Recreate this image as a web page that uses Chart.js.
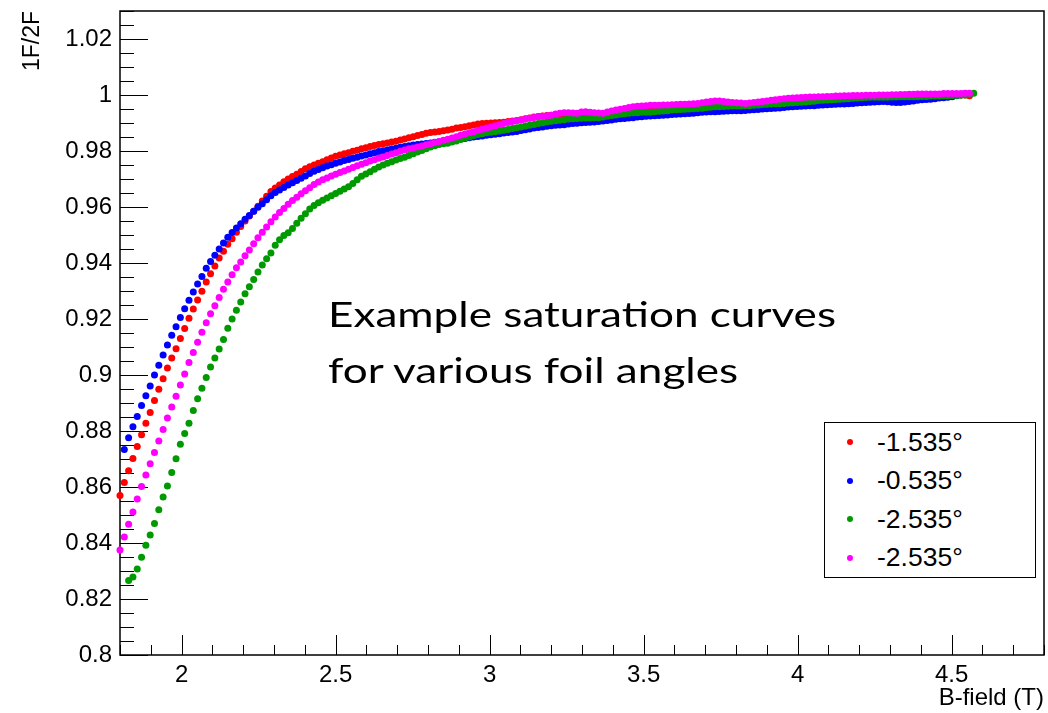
<!DOCTYPE html>
<html>
<head>
<meta charset="utf-8">
<title>Saturation curves</title>
<script src="https://cdn.jsdelivr.net/npm/chart.js@4.4.0/dist/chart.umd.min.js"></script>
<style>
  html, body { margin: 0; padding: 0; background: #fff; }
  #wrap { position: relative; width: 1048px; height: 713px; overflow: hidden; }
  #satChart { position: absolute; left: 0; top: 0; }
  #note {
    position: absolute; left: 328px; top: 285px;
    font-family: Lato, "Open Sans", sans-serif; font-size: 35px; line-height: 56px;
    color: #000; white-space: nowrap; transform-origin: 0 0;
  }
  #legendBox {
    position: absolute; left: 824px; top: 422px; width: 210px; height: 154px;
    border: 1px solid #000; background: #fff;
    font-family: "Liberation Sans", Arial, sans-serif; font-size: 26.5px; color: #000;
  }
  .legRow { height: 38.5px; display: flex; align-items: center; }
  .legDot { width: 6px; height: 6px; border-radius: 50%; margin-left: 22px; margin-right: 24px; }
</style>
</head>
<body>
<div id="wrap">
  <canvas id="satChart" width="1048" height="713"></canvas>
  <div id="note"><span id="noteLine1">Example saturation curves</span><br><span>for various foil angles</span></div>
  <div id="legendBox"></div>
</div>

<script>
/*
    1F/2F SATURATION CURVES VS B-FIELD
*/

// B-field sample points (T)
const bField = [
  1.800,1.814,1.828,1.842,1.856,1.870,1.884,1.898,1.912,1.926,1.940,1.954,1.968,1.982,1.996,2.010,2.024,2.038,2.052,2.066,2.080,2.094,2.108,2.122,2.136,2.150,2.164,2.178,2.192,2.206,2.220,2.234,2.248,2.262,2.276,2.290,2.304,2.318,2.332,2.346,2.360,2.374,2.388,2.402,2.416,2.430,2.444,2.458,2.472,2.486,
  2.500,2.514,2.528,2.542,2.556,2.570,2.584,2.598,2.612,2.626,2.640,2.654,2.668,2.682,2.696,2.710,2.724,2.738,2.752,2.766,2.780,2.794,2.808,2.822,2.836,2.850,2.864,2.878,2.892,2.906,2.920,2.934,2.948,2.962,2.976,2.990,3.004,3.018,3.032,3.046,3.060,3.074,3.088,3.102,3.116,3.130,3.144,3.158,3.172,3.186,
  3.200,3.214,3.228,3.242,3.256,3.270,3.284,3.298,3.312,3.326,3.340,3.354,3.368,3.382,3.396,3.410,3.424,3.438,3.452,3.466,3.480,3.494,3.508,3.522,3.536,3.550,3.564,3.578,3.592,3.606,3.620,3.634,3.648,3.662,3.676,3.690,3.704,3.718,3.732,3.746,3.760,3.774,3.788,3.802,3.816,3.830,3.844,3.858,3.872,3.886,
  3.900,3.914,3.928,3.942,3.956,3.970,3.984,3.998,4.012,4.026,4.040,4.054,4.068,4.082,4.096,4.110,4.124,4.138,4.152,4.166,4.180,4.194,4.208,4.222,4.236,4.250,4.264,4.278,4.292,4.306,4.320,4.334,4.348,4.362,4.376,4.390,4.404,4.418,4.432,4.446,4.460,4.474,4.488,4.502,4.516,4.530,4.544,4.558,4.572
];

// 1F/2F ratio per foil angle (null = no measurement at that field)
const ratioM1535 = [
  0.8570,0.8616,0.8658,0.8702,0.8745,0.8787,0.8828,0.8866,0.8909,0.8949,
  0.8987,0.9025,0.9061,0.9094,0.9130,0.9166,0.9203,0.9236,0.9268,0.9299,
  0.9332,0.9362,0.9389,0.9418,0.9442,0.9467,0.9487,0.9510,0.9530,0.9550,
  0.9568,0.9585,0.9603,0.9621,0.9638,0.9655,0.9668,0.9679,0.9690,0.9700,
  0.9709,0.9717,0.9727,0.9737,0.9744,0.9750,0.9756,0.9762,0.9769,0.9775,
  0.9781,0.9786,0.9790,0.9794,0.9799,0.9803,0.9808,0.9812,0.9816,0.9820,
  0.9823,0.9826,0.9829,0.9832,0.9835,0.9839,0.9843,0.9847,0.9851,0.9855,
  0.9859,0.9863,0.9866,0.9868,0.9870,0.9872,0.9875,0.9878,0.9882,0.9884,
  0.9887,0.9890,0.9893,0.9896,0.9898,0.9899,0.9900,0.9901,0.9902,0.9903,
  0.9905,0.9907,0.9909,0.9912,0.9915,0.9918,0.9921,0.9923,0.9925,0.9927,
  0.9928,0.9930,0.9931,0.9932,0.9932,0.9931,0.9931,0.9933,0.9934,0.9933,
  0.9932,0.9932,0.9932,0.9935,0.9938,0.9941,0.9944,0.9947,0.9950,0.9953,
  0.9955,0.9956,0.9957,0.9958,0.9958,0.9959,0.9959,0.9960,0.9961,0.9962,
  0.9962,0.9963,0.9964,0.9965,0.9966,0.9967,0.9969,0.9971,0.9972,0.9972,
  0.9971,0.9969,0.9968,0.9967,0.9967,0.9967,0.9968,0.9969,0.9971,0.9973,
  0.9975,0.9977,0.9979,0.9981,0.9982,0.9983,0.9984,0.9985,0.9986,0.9987,
  0.9988,0.9988,0.9989,0.9989,0.9990,0.9990,0.9991,0.9991,0.9992,0.9992,
  0.9993,0.9993,0.9993,0.9994,0.9994,0.9994,0.9995,0.9995,0.9995,0.9996,
  0.9996,0.9996,0.9997,0.9997,0.9997,0.9998,0.9998,0.9998,0.9998,0.9999,
  0.9999,0.9999,0.9999,1.0000,1.0000,1.0000,1.0000,0.9997,null
];

const ratioM0535 = [
  null,0.8734,0.8776,0.8815,0.8852,0.8891,0.8926,0.8961,0.9000,0.9035,
  0.9071,0.9107,0.9142,0.9172,0.9205,0.9237,0.9267,0.9296,0.9325,0.9352,
  0.9381,0.9405,0.9428,0.9450,0.9471,0.9492,0.9509,0.9525,0.9540,0.9556,
  0.9570,0.9585,0.9599,0.9612,0.9626,0.9640,0.9652,0.9661,0.9670,0.9679,
  0.9687,0.9695,0.9703,0.9711,0.9720,0.9728,0.9734,0.9740,0.9746,0.9751,
  0.9756,0.9761,0.9766,0.9770,0.9774,0.9778,0.9782,0.9786,0.9790,0.9794,
  0.9798,0.9801,0.9804,0.9807,0.9810,0.9813,0.9816,0.9819,0.9821,0.9823,
  0.9825,0.9827,0.9829,0.9831,0.9833,0.9835,0.9837,0.9839,0.9841,0.9843,
  0.9845,0.9847,0.9850,0.9852,0.9854,0.9856,0.9858,0.9860,0.9862,0.9864,
  0.9866,0.9868,0.9870,0.9873,0.9876,0.9879,0.9882,0.9884,0.9886,0.9888,
  0.9890,0.9892,0.9893,0.9894,0.9896,0.9898,0.9899,0.9901,0.9902,0.9903,
  0.9904,0.9905,0.9907,0.9909,0.9911,0.9913,0.9915,0.9916,0.9918,0.9919,
  0.9921,0.9922,0.9924,0.9925,0.9926,0.9927,0.9928,0.9929,0.9930,0.9931,
  0.9932,0.9933,0.9934,0.9935,0.9937,0.9938,0.9939,0.9940,0.9940,0.9941,
  0.9942,0.9943,0.9944,0.9944,0.9944,0.9945,0.9946,0.9947,0.9948,0.9950,
  0.9951,0.9952,0.9953,0.9954,0.9955,0.9957,0.9958,0.9959,0.9960,0.9961,
  0.9962,0.9962,0.9963,0.9964,0.9965,0.9966,0.9967,0.9968,0.9968,0.9969,
  0.9970,0.9971,0.9972,0.9973,0.9974,0.9975,0.9976,0.9977,0.9976,0.9974,
  0.9973,0.9973,0.9975,0.9977,0.9979,0.9981,0.9983,0.9984,0.9985,0.9987,
  0.9989,0.9990,0.9992,0.9994,0.9997,1.0001,1.0005,null,null
];

const ratioM2535a = [
  null,null,0.8266,0.8279,0.8307,0.8349,0.8392,0.8429,0.8470,0.8519,
  0.8564,0.8604,0.8652,0.8701,0.8753,0.8791,0.8828,0.8873,0.8915,0.8953,
  0.8991,0.9029,0.9061,0.9093,0.9127,0.9167,0.9200,0.9231,0.9261,0.9290,
  0.9315,0.9341,0.9368,0.9393,0.9415,0.9436,0.9463,0.9483,0.9498,0.9508,
  0.9523,0.9542,0.9560,0.9576,0.9593,0.9605,0.9615,0.9624,0.9632,0.9640,
  0.9648,0.9656,0.9664,0.9672,0.9684,0.9697,0.9710,0.9718,0.9726,0.9735,
  0.9743,0.9750,0.9756,0.9762,0.9768,0.9773,0.9778,0.9784,0.9790,0.9796,
  0.9802,0.9808,0.9814,0.9819,0.9823,0.9826,0.9828,0.9832,0.9836,0.9841,
  0.9846,0.9850,0.9855,0.9859,0.9862,0.9865,0.9867,0.9869,0.9871,0.9874,
  0.9877,0.9880,0.9883,0.9886,0.9889,0.9892,0.9895,0.9898,0.9901,0.9904,
  0.9906,0.9908,0.9910,0.9912,0.9914,0.9915,0.9916,0.9917,0.9918,0.9918,
  0.9919,0.9919,0.9921,0.9924,0.9927,0.9929,0.9931,0.9933,0.9935,0.9937,
  0.9937,0.9938,0.9938,0.9938,0.9940,0.9942,0.9943,0.9944,0.9946,0.9947,
  0.9948,0.9949,0.9950,0.9951,0.9952,0.9953,0.9955,0.9956,0.9958,0.9958,
  0.9959,0.9960,0.9961,0.9961,0.9961,0.9962,0.9962,0.9963,0.9964,0.9966,
  0.9967,0.9968,0.9969,0.9969,0.9970,0.9971,0.9972,0.9973,0.9974,0.9975,
  0.9977,0.9978,0.9980,0.9981,0.9982,0.9983,0.9984,0.9985,0.9986,0.9987,
  0.9988,0.9989,0.9990,0.9991,0.9992,0.9992,0.9992,0.9992,0.9992,0.9993,
  0.9993,0.9994,0.9994,0.9994,0.9994,0.9994,0.9995,0.9995,0.9996,0.9996,
  0.9996,0.9997,0.9997,0.9998,0.9998,0.9999,1.0000,1.0003,1.0006
];

const ratioM2535b = [
  0.8375,0.8421,0.8467,0.8511,0.8557,0.8602,0.8643,0.8683,0.8723,0.8764,
  0.8805,0.8846,0.8886,0.8924,0.8964,0.9004,0.9045,0.9080,0.9117,0.9153,
  0.9187,0.9219,0.9247,0.9277,0.9306,0.9332,0.9358,0.9383,0.9404,0.9426,
  0.9446,0.9469,0.9490,0.9510,0.9529,0.9547,0.9564,0.9580,0.9595,0.9610,
  0.9623,0.9635,0.9647,0.9658,0.9669,0.9680,0.9689,0.9697,0.9704,0.9711,
  0.9717,0.9723,0.9729,0.9735,0.9741,0.9747,0.9753,0.9758,0.9764,0.9769,
  0.9774,0.9779,0.9784,0.9789,0.9794,0.9799,0.9804,0.9808,0.9811,0.9814,
  0.9818,0.9822,0.9826,0.9830,0.9834,0.9838,0.9842,0.9846,0.9851,0.9856,
  0.9861,0.9865,0.9869,0.9874,0.9878,0.9882,0.9886,0.9890,0.9894,0.9898,
  0.9902,0.9905,0.9908,0.9911,0.9914,0.9917,0.9920,0.9922,0.9924,0.9926,
  0.9928,0.9932,0.9935,0.9937,0.9937,0.9936,0.9935,0.9939,0.9940,0.9938,
  0.9937,0.9936,0.9935,0.9939,0.9943,0.9946,0.9949,0.9952,0.9955,0.9958,
  0.9960,0.9961,0.9962,0.9963,0.9963,0.9963,0.9964,0.9964,0.9965,0.9966,
  0.9967,0.9967,0.9968,0.9969,0.9970,0.9972,0.9975,0.9977,0.9979,0.9979,
  0.9977,0.9975,0.9973,0.9972,0.9971,0.9970,0.9971,0.9973,0.9975,0.9977,
  0.9979,0.9981,0.9983,0.9985,0.9987,0.9988,0.9989,0.9990,0.9991,0.9992,
  0.9993,0.9993,0.9994,0.9994,0.9995,0.9995,0.9996,0.9996,0.9997,0.9997,
  0.9998,0.9998,0.9998,0.9999,0.9999,0.9999,1.0000,1.0000,1.0000,1.0001,
  1.0001,1.0002,1.0002,1.0003,1.0003,1.0004,1.0004,1.0004,1.0004,1.0004,
  1.0004,1.0005,1.0005,1.0005,1.0005,1.0005,1.0006,1.0006,null
];

// legend labels and marker colours
const angleLabels = ['-1.535°', '-0.535°', '-2.535°', '-2.535°'];
const angleColors = ['#ff0000', '#0000ff', '#009900', '#ff00ff'];

// axis ticks
const xTickValues = [2, 2.5, 3, 3.5, 4, 4.5];
const yTickValues = [0.8, 0.82, 0.84, 0.86, 0.88, 0.9, 0.92, 0.94, 0.96, 0.98, 1, 1.02];

const axisFont = '"Liberation Sans", Arial, Helvetica, sans-serif';

//turn a column of ratios into scatter points
function makePoints(series) {
    const pts = [];
    bField.forEach((b, i) => {
        if (series[i] !== null) pts.push({ x: b, y: series[i] });
    });
    return pts;
}

// ROOT style frame with ticks pointing inwards
const rootFrame = {
    id: 'rootFrame',
    beforeDatasetsDraw(chart) {
        const { ctx, chartArea: a, scales: { x, y } } = chart;
        ctx.save();
        ctx.strokeStyle = '#000';
        ctx.lineWidth = 1;
        ctx.beginPath();
        // x ticks every 0.1, long ones every 0.5
        for (let v = 18; v <= 48; v++) {
            const px = Math.round(x.getPixelForValue(v / 10)) + 0.5;
            const len = v % 5 === 0 ? 20 : 10;
            ctx.moveTo(px, a.bottom);
            ctx.lineTo(px, a.bottom - len);
        }
        // y ticks every 0.005, long ones every 0.02
        for (let v = 160; v <= 206; v++) {
            const py = Math.round(y.getPixelForValue(v * 0.005)) + 0.5;
            const len = v % 4 === 0 ? 28 : 14;
            ctx.moveTo(a.left, py);
            ctx.lineTo(a.left + len, py);
        }
        ctx.stroke();
        ctx.lineWidth = 1.5;
        ctx.strokeRect(a.left, a.top, a.right - a.left, a.bottom - a.top);
        ctx.restore();
    }
};

function plotSaturation() {
    const ctx = document.getElementById('satChart').getContext('2d');
    const allSeries = [ratioM1535, ratioM0535, ratioM2535a, ratioM2535b];

    const datasets = allSeries.map((s, i) => ({
        label: angleLabels[i],
        data: makePoints(s),
        backgroundColor: angleColors[i],
        borderWidth: 0,
        pointRadius: 3.5,
        pointHoverRadius: 3.5,
        showLine: false,
        clip: false,
        order: allSeries.length - i   // later series drawn on top
    }));

    return new Chart(ctx, {
        type: 'scatter',
        data: { datasets: datasets },
        options: {
            responsive: false,
            animation: false,
            layout: { padding: { top: 11, right: 4, left: 0, bottom: 0 } },
            plugins: {
                legend: { display: false },
                tooltip: { enabled: false }
            },
            scales: {
                x: {
                    type: 'linear',
                    min: 1.8,
                    max: 4.8,
                    afterBuildTicks: s => { s.ticks = xTickValues.map(v => ({ value: v })); },
                    afterFit: s => { s.height = 58; s.paddingLeft = 0; s.paddingRight = 0; },
                    grid: { display: false, drawTicks: false },
                    border: { display: false },
                    ticks: {
                        autoSkip: false,
                        maxRotation: 0,
                        padding: 6,
                        color: '#000',
                        font: { family: axisFont, size: 24 },
                        callback: v => String(Number(v.toFixed(2)))
                    },
                    title: {
                        display: true,
                        text: 'B-field (T)',
                        align: 'end',
                        color: '#000',
                        font: { family: axisFont, size: 24, lineHeight: 1.2 },
                        padding: { top: 0, bottom: 0 }
                    }
                },
                y: {
                    type: 'linear',
                    min: 0.8,
                    max: 1.03,
                    afterBuildTicks: s => { s.ticks = yTickValues.map(v => ({ value: v })); },
                    afterFit: s => { s.width = 120; s.paddingTop = 0; s.paddingBottom = 0; },
                    grid: { display: false, drawTicks: false },
                    border: { display: false },
                    ticks: {
                        autoSkip: false,
                        padding: 8,
                        color: '#000',
                        font: { family: axisFont, size: 24 },
                        callback: v => String(Number(v.toFixed(3)))
                    },
                    title: {
                        display: true,
                        text: '1F/2F',
                        align: 'end',
                        color: '#000',
                        font: { family: axisFont, size: 23, lineHeight: 1.2 },
                        padding: { top: 19, bottom: 0 }
                    }
                }
            }
        },
        plugins: [rootFrame]
    });
}

//legend box built from the datasets
function buildLegend(chart) {
    const box = document.getElementById('legendBox');
    chart.data.datasets.forEach(ds => {
        const row = document.createElement('div');
        row.className = 'legRow';
        const dot = document.createElement('span');
        dot.className = 'legDot';
        dot.style.background = ds.backgroundColor;
        const txt = document.createElement('span');
        txt.textContent = ds.label;
        row.appendChild(dot);
        row.appendChild(txt);
        box.appendChild(row);
    });
}

//stretch the note so its first line spans the same width as the original
function fitNote() {
    const w = document.getElementById('noteLine1').getBoundingClientRect().width;
    document.getElementById('note').style.transform = 'scaleX(' + (508 / w) + ')';
}

const satChart = plotSaturation();
buildLegend(satChart);
fitNote();
</script>
</body>
</html>
